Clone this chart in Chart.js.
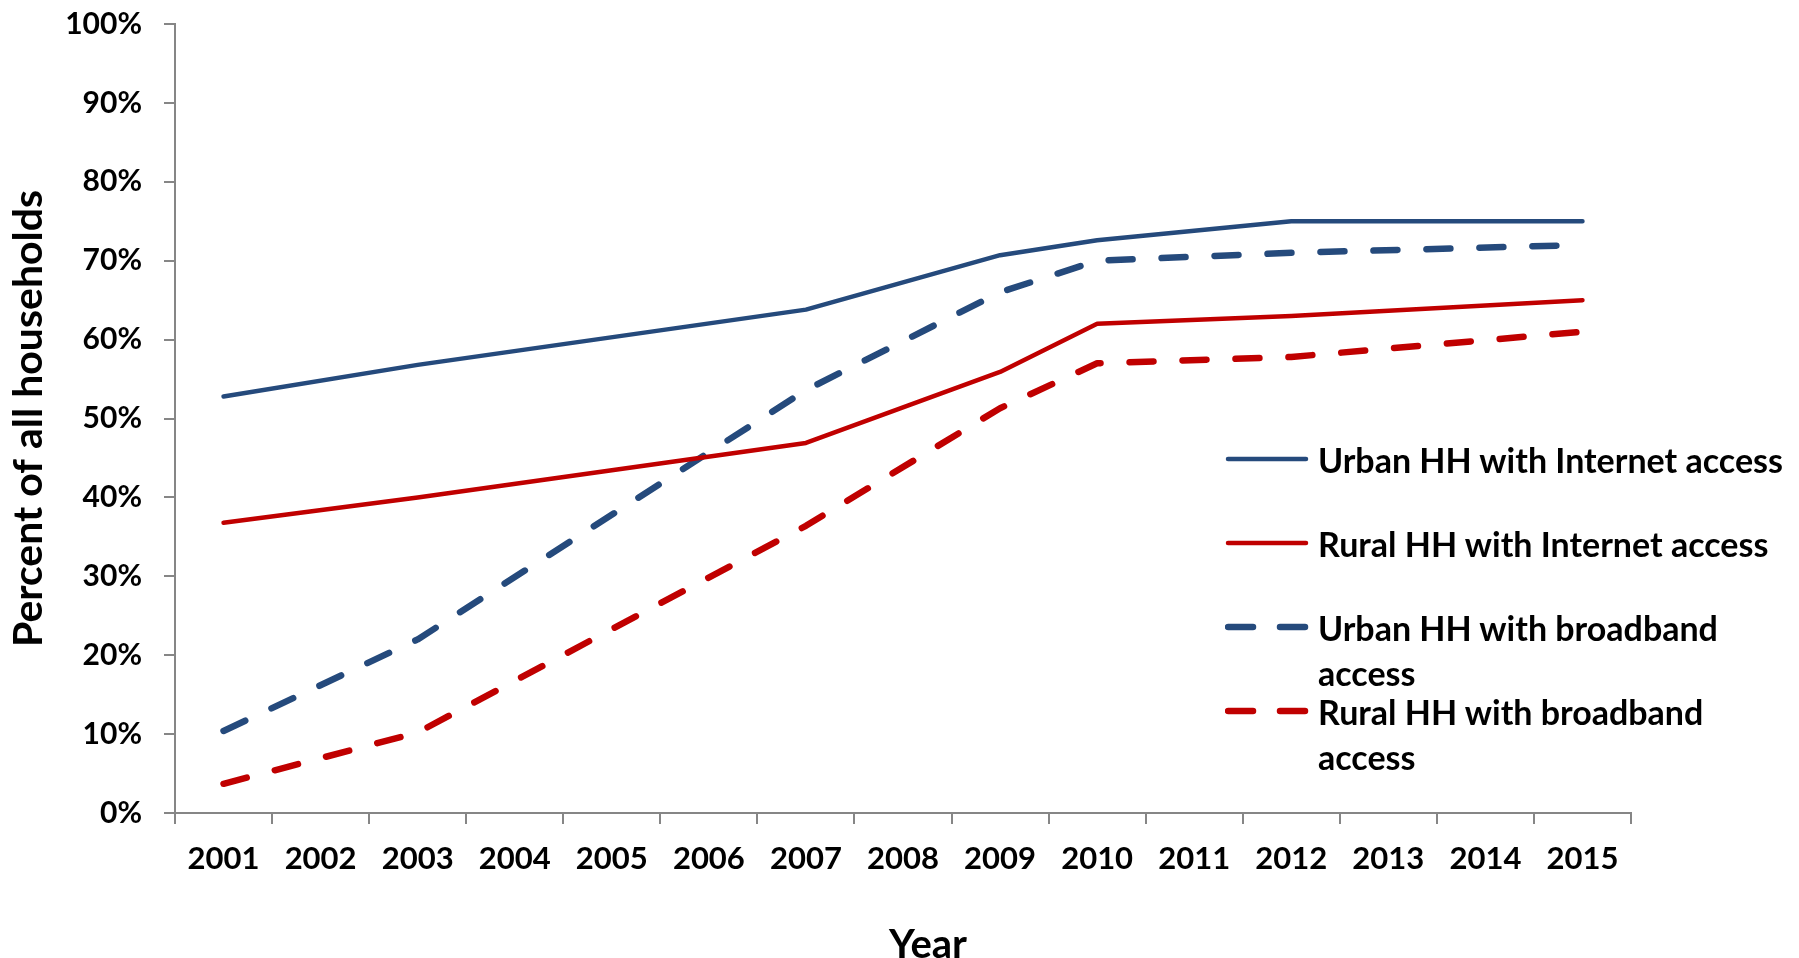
<!DOCTYPE html>
<html>
<head>
<meta charset="utf-8">
<script src="https://cdn.jsdelivr.net/npm/chart.js@4/dist/chart.umd.min.js"></script>
<style>
    html, body { margin: 0; padding: 0; background: #fff; }
    #wrap { position: relative; width: 1799px; height: 958px; font-family: Lato, sans-serif; font-weight: bold; color: #000; }
    #legend { position: absolute; left: 0; top: 0; font-size: 34px; }
    .item { position: absolute; left: 1225px; display: flex; align-items: flex-start; }
    .item svg { flex: none; margin-top: 17px; }
    .item span { display: block; width: 485px; margin-left: 9px; line-height: 45px; }
    #xtitle { position: absolute; left: 928px; top: 943px; transform: translate(-50%, -50%); font-size: 40px; line-height: 1; }
</style>
</head>
<body>
<div id="wrap">
    <canvas id="chart"></canvas>
    <div id="legend"></div>
    <div id="xtitle"></div>
</div>
<script>
// years on the category axis
const years = ['2001', '2002', '2003', '2004', '2005', '2006', '2007', '2008',
               '2009', '2010', '2011', '2012', '2013', '2014', '2015'];

// percent of households (null = no survey that year)
const urbanInternet  = [52.8, null, 56.8, null, null, null, 63.8, null, 70.7, 72.6, null, 75.0, null, null, 75.0];
const ruralInternet  = [36.8, null, 40.0, null, null, null, 46.9, null, 55.9, 62.0, null, 63.0, null, null, 65.0];
const urbanBroadband = [10.4, null, 22.0, null, null, null, 53.6, null, 66.0, 70.0, null, 71.0, null, null, 72.0];
const ruralBroadband = [3.7,  null, 10.2, null, null, null, 36.4, null, 51.3, 57.0, null, 57.8, null, null, 61.0];

const seriesNames = [
    'Urban HH with Internet access',
    'Rural HH with Internet access',
    'Urban HH with broadband access',
    'Rural HH with broadband access'
];

const xTitle = 'Year';
const yTitle = 'Percent of all households';

const BLUE = '#254a7c';
const RED = '#c00000';
const AXIS = '#868686';
const FONT = 'Lato';

function lineSet(label, data, color, dashed) {
    return {
        label: label,
        data: data,
        borderColor: color,
        backgroundColor: color,
        borderWidth: dashed ? 6.5 : 4.5,
        borderDash: dashed ? [24, 29] : [],
        borderCapStyle: 'round',
        borderJoinStyle: 'round',
        pointRadius: 0,
        pointHoverRadius: 0,
        tension: 0,
        spanGaps: true,
        fill: false
    };
}

const datasets = [
    lineSet(seriesNames[0], urbanInternet, BLUE, false),
    lineSet(seriesNames[1], ruralInternet, RED, false),
    lineSet(seriesNames[2], urbanBroadband, BLUE, true),
    lineSet(seriesNames[3], ruralBroadband, RED, true)
];

const canvas = document.getElementById('chart');

const chart = new Chart(canvas, {
    type: 'line',
    data: { labels: years, datasets: datasets },
    options: {
        responsive: true,
        maintainAspectRatio: false,
        animation: false,
        layout: { padding: { top: 24, right: 168, bottom: 0, left: 0 } },
        plugins: {
            legend: { display: false },
            tooltip: { enabled: false }
        },
        scales: {
            x: {
                type: 'category',
                offset: true,
                grid: {
                    offset: true,
                    drawOnChartArea: false,
                    drawTicks: true,
                    tickLength: 11,
                    color: AXIS,
                    lineWidth: 2
                },
                border: { color: AXIS, width: 2 },
                ticks: {
                    color: '#000',
                    padding: 16,
                    maxRotation: 0,
                    autoSkip: false,
                    font: { family: FONT, size: 31, weight: 'bold' }
                },
                afterFit: (scale) => { scale.height = 145; }
            },
            y: {
                min: 0,
                max: 100,
                grid: {
                    drawOnChartArea: false,
                    drawTicks: true,
                    tickLength: 11,
                    color: AXIS,
                    lineWidth: 2
                },
                border: { color: AXIS, width: 2 },
                ticks: {
                    stepSize: 10,
                    color: '#000',
                    padding: 22,
                    font: { family: FONT, size: 30, weight: 'bold' },
                    callback: (v) => v + '%'
                },
                title: {
                    display: true,
                    text: yTitle,
                    color: '#000',
                    padding: { top: 8, bottom: 0 },
                    font: { family: FONT, size: 41, weight: 'bold', lineHeight: 1 }
                },
                afterFit: (scale) => {
                    scale.width = 175;
                    // let the layout padding alone decide where the plot starts
                    scale.paddingTop = 0;
                    scale.paddingBottom = 0;
                }
            }
        }
    }
});

document.getElementById('xtitle').textContent = xTitle;

// legend drawn as html, placed over the right side of the plot
const legendTops = [437, 521, 605, 689];
const legendBox = document.getElementById('legend');
chart.data.datasets.forEach((ds, i) => {
    const item = document.createElement('div');
    item.className = 'item';
    item.style.top = legendTops[i] + 'px';
    const dash = ds.borderDash.length ? ' stroke-dasharray="25 27"' : '';
    item.innerHTML =
        '<svg width="84" height="10"><line x1="3" y1="5" x2="81" y2="5" stroke="' + ds.borderColor +
        '" stroke-width="' + ds.borderWidth + '" stroke-linecap="round"' + dash + '/></svg>' +
        '<span>' + ds.label + '</span>';
    legendBox.appendChild(item);
});
</script>
</body>
</html>
